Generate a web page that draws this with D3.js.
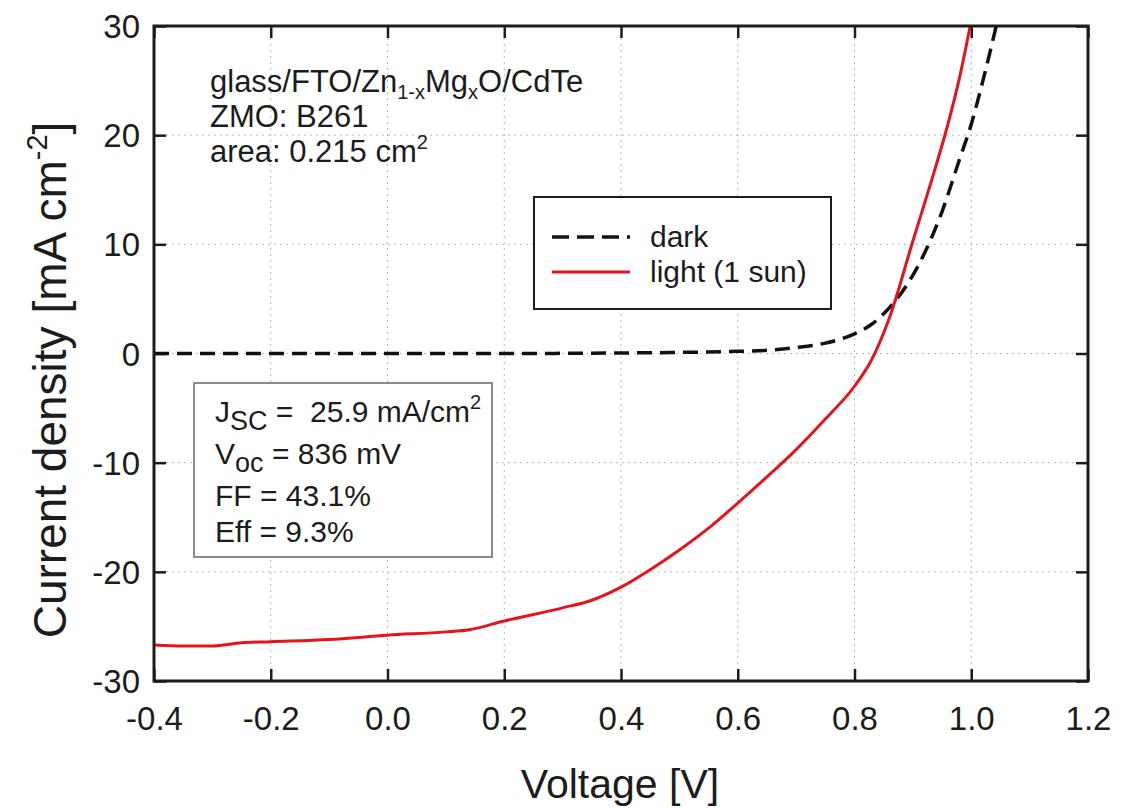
<!DOCTYPE html>
<html>
<head>
<meta charset="utf-8">
<script src="https://cdn.jsdelivr.net/npm/d3@7"></script>
<style>
  body { margin: 0; background: #fff; }
  text { font-family: "Liberation Sans", Arial, sans-serif; fill: #1c1c1c; white-space: pre; }
</style>
</head>
<body>
<svg id="chart" width="1122" height="808"></svg>
<script>
// J-V data (voltage in V, current density in mA/cm2)
const darkV = [-0.4, -0.2, 0.0, 0.2, 0.4, 0.5, 0.6, 0.65, 0.7, 0.75, 0.8, 0.83, 0.86, 0.89, 0.92, 0.95, 0.98, 1.0, 1.02, 1.045];
const darkJ = [0, 0, 0, 0, 0.05, 0.1, 0.2, 0.3, 0.55, 0.95, 1.8, 2.7, 4.2, 6.3, 9.2, 13.0, 17.8, 21.0, 25.0, 30.5];

const lightV = [-0.4, -0.35, -0.3, -0.25, -0.2, -0.1, 0.0, 0.1, 0.14, 0.2, 0.3, 0.35, 0.4, 0.45, 0.5, 0.55, 0.6, 0.65, 0.7, 0.75, 0.8, 0.83, 0.86, 0.9, 0.93, 0.96, 0.98, 1.0];
const lightJ = [-26.7, -26.8, -26.8, -26.5, -26.4, -26.2, -25.8, -25.5, -25.3, -24.5, -23.3, -22.6, -21.4, -19.8, -18.0, -16.0, -13.7, -11.3, -8.8, -6.0, -3.0, -0.5, 3.3, 10.3, 15.5, 21.0, 25.3, 30.5];

const xTicks = [-0.4, -0.2, 0.0, 0.2, 0.4, 0.6, 0.8, 1.0, 1.2];
const yTicks = [-30, -20, -10, 0, 10, 20, 30];
const legendLabels = ["dark", "light (1 sun)"];
const statsLines = [
  { main: "J", sub: "SC", rest: " =  25.9 mA/cm", sup: "2" },
  { main: "V", sub: "oc", rest: " = 836 mV" },
  { main: "FF = 43.1%" },
  { main: "Eff = 9.3%" }
];

const margin = { top: 26, left: 154 };
const width = 934, height = 655;
const red = "#e5141b";

const svg = d3.select("#chart");
const g = svg.append("g").attr("transform", `translate(${margin.left},${margin.top})`);

const x = d3.scaleLinear().domain([-0.4, 1.2]).range([0, width]);
const y = d3.scaleLinear().domain([-30, 30]).range([height, 0]);

// dotted grid
g.append("g").selectAll("line")
  .data(xTicks.slice(1, -1)).enter().append("line")
  .attr("x1", d => x(d)).attr("x2", d => x(d))
  .attr("y1", 0).attr("y2", height)
  .attr("stroke", "#b8b8b8").attr("stroke-dasharray", "2,4");
g.append("g").selectAll("line")
  .data(yTicks.slice(1, -1)).enter().append("line")
  .attr("y1", d => y(d)).attr("y2", d => y(d))
  .attr("x1", 0).attr("x2", width)
  .attr("stroke", "#b8b8b8").attr("stroke-dasharray", "2,4");

// axes with inward ticks on all sides
const tick = 12;
const xAxis = g.append("g").attr("transform", `translate(0,${height})`)
  .call(d3.axisBottom(x).tickValues(xTicks).tickSizeInner(-tick).tickSizeOuter(0).tickPadding(26).tickFormat(d => d.toFixed(1)));
const xAxisTop = g.append("g")
  .call(d3.axisTop(x).tickValues(xTicks).tickSizeInner(-tick).tickSizeOuter(0).tickFormat(""));
const yAxis = g.append("g")
  .call(d3.axisLeft(y).tickValues(yTicks).tickSizeInner(-tick).tickSizeOuter(0).tickPadding(14).tickFormat(d => String(d)));
const yAxisRight = g.append("g").attr("transform", `translate(${width},0)`)
  .call(d3.axisRight(y).tickValues(yTicks).tickSizeInner(-tick).tickSizeOuter(0).tickFormat(""));

[xAxis, xAxisTop, yAxis, yAxisRight].forEach(a => {
  a.select(".domain").remove();
  a.selectAll(".tick line").attr("stroke", "#1c1c1c").attr("stroke-width", 2.5);
});
xAxis.selectAll(".tick text").attr("font-size", 33).attr("dy", "0.71em");
yAxis.selectAll(".tick text").attr("font-size", 33).attr("dy", "0.35em");

// clip the curves to the frame
svg.append("defs").append("clipPath").attr("id", "plotclip")
  .append("rect").attr("width", width).attr("height", height);

const line = d3.line().curve(d3.curveMonotoneX).x(d => x(d[0])).y(d => y(d[1]));

g.append("path")
  .datum(darkV.map((v, i) => [v, darkJ[i]]))
  .attr("clip-path", "url(#plotclip)")
  .attr("fill", "none").attr("stroke", "#111").attr("stroke-width", 3.5)
  .attr("stroke-dasharray", "15,8")
  .attr("d", line);

g.append("path")
  .datum(lightV.map((v, i) => [v, lightJ[i]]))
  .attr("clip-path", "url(#plotclip)")
  .attr("fill", "none").attr("stroke", red).attr("stroke-width", 3)
  .attr("d", line);

// frame
g.append("rect").attr("width", width).attr("height", height)
  .attr("fill", "none").attr("stroke", "#1c1c1c").attr("stroke-width", 3);

// annotation top-left
const note = svg.append("g").attr("font-size", 31);
let t = note.append("text").attr("x", 210).attr("y", 92);
t.append("tspan").text("glass/FTO/Zn");
t.append("tspan").attr("font-size", 20).attr("dy", 7).text("1-x");
t.append("tspan").attr("dy", -7).text("Mg");
t.append("tspan").attr("font-size", 20).attr("dy", 7).text("x");
t.append("tspan").attr("dy", -7).text("O/CdTe");
note.append("text").attr("x", 210).attr("y", 127).text("ZMO: B261");
t = note.append("text").attr("x", 210).attr("y", 162);
t.append("tspan").text("area: 0.215 cm");
t.append("tspan").attr("font-size", 20).attr("dy", -13).text("2");

// legend
const legend = svg.append("g");
legend.append("rect").attr("x", 534).attr("y", 197).attr("width", 297).attr("height", 112)
  .attr("fill", "#fff").attr("stroke", "#1c1c1c").attr("stroke-width", 2);
legendLabels.forEach((label, i) => {
  const ly = 237 + i * 35;
  legend.append("line").attr("x1", 552).attr("x2", 630).attr("y1", ly).attr("y2", ly)
    .attr("stroke", i === 0 ? "#111" : red)
    .attr("stroke-width", i === 0 ? 3.5 : 3)
    .attr("stroke-dasharray", i === 0 ? "17,8" : null);
  legend.append("text").attr("x", 650).attr("y", ly + 10).attr("font-size", 30).text(label);
});

// stats box
const stats = svg.append("g");
stats.append("rect").attr("x", 194).attr("y", 383).attr("width", 298).attr("height", 174)
  .attr("fill", "#fff").attr("stroke", "#8a8a8a").attr("stroke-width", 2);
const statsY = [422, 464, 506, 542];
statsLines.forEach((s, i) => {
  const tx = stats.append("text").attr("x", 215).attr("y", statsY[i]).attr("font-size", 30);
  tx.append("tspan").text(s.main);
  if (s.sub) {
    tx.append("tspan").attr("font-size", 27).attr("dy", 8).text(s.sub);
    tx.append("tspan").attr("dy", -8).text(s.rest);
  }
  if (s.sup) tx.append("tspan").attr("font-size", 20).attr("dy", -13).text(s.sup);
});

// axis titles
svg.append("text").attr("x", 620).attr("y", 798).attr("text-anchor", "middle")
  .attr("font-size", 41).text("Voltage [V]");
const yt = svg.append("text").attr("transform", "translate(66,380) rotate(-90)")
  .attr("text-anchor", "middle").attr("font-size", 46);
yt.append("tspan").text("Current density [mA cm");
yt.append("tspan").attr("font-size", 29).attr("dy", -19).text("-2");
yt.append("tspan").attr("dy", 19).text("]");
</script>
</body>
</html>
